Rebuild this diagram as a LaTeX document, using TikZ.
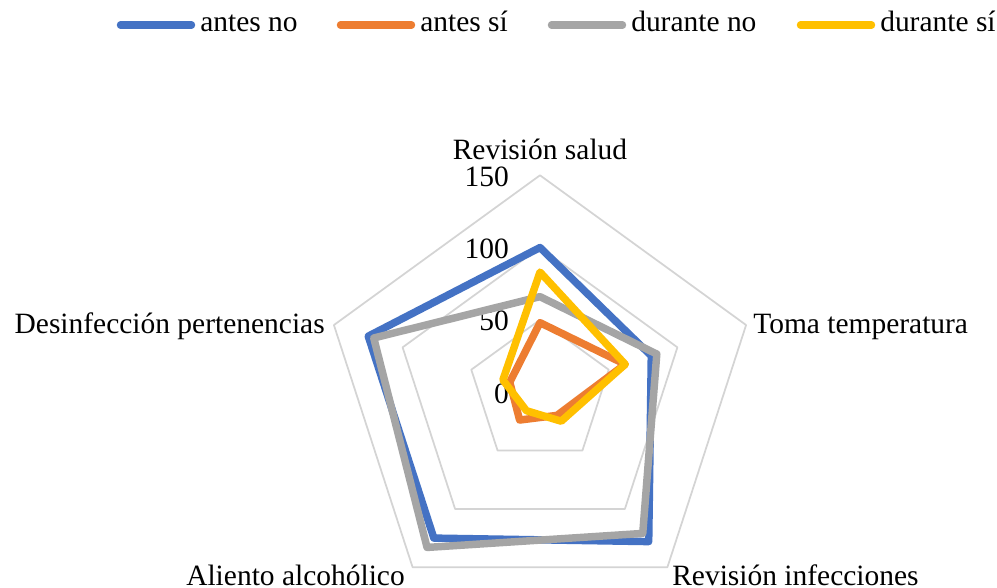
\documentclass[tikz,border=0pt]{standalone}
\usepackage{fontspec}
\setmainfont{Liberation Serif}
\usetikzlibrary{calc}
\definecolor{cblue}{HTML}{4472C4}
\definecolor{corange}{HTML}{ED7D31}
\definecolor{cgray}{HTML}{A5A5A5}
\definecolor{cyellow}{HTML}{FFC000}
\definecolor{gridgray}{HTML}{D4D4D4}
\newcommand\val[2]{($(c)!#2/150!(v#1)$)}
\begin{document}
\begin{tikzpicture}[x=0.75pt, y=0.75pt,
	grid/.style={draw=gridgray, line width=1.3pt, line join=round},
	serie/.style={line width=5.6pt, line join=round, line cap=round},
	lab/.style={font=\fontsize{22.1}{26}\selectfont, inner sep=0}]

		\fill[white] (0,0) rectangle (997,587);
		\useasboundingbox (0,0) rectangle (997,587);
		%axes
		\coordinate (c) at (540,195);
		\foreach \a [count=\i] in {90,18,-54,-126,162} {
			\coordinate (v\i) at ($(c)+(\a:216.7)$);
		}
		%rings
		\foreach \f in {0.3333,0.6667,1} {
			\draw[grid] ($(c)!\f!(v1)$) -- ($(c)!\f!(v2)$) -- ($(c)!\f!(v3)$) -- ($(c)!\f!(v4)$) -- ($(c)!\f!(v5)$) -- cycle;
		}
		\foreach \t in {0,50,100,150} {
			\node[lab, anchor=base east] (t\t) at ($(c)+(-31,\t*1.4447-11)$) {\t};
		}
		%series
		\draw[serie, cblue] \val{1}{100} -- \val{2}{81} -- \val{3}{128} -- \val{4}{125} -- \val{5}{125} -- cycle;
		\draw[serie, corange] \val{1}{48} -- \val{2}{62} -- \val{3}{20} -- \val{4}{24} -- \val{5}{22} -- cycle;
		\draw[serie, cgray] \val{1}{66} -- \val{2}{85} -- \val{3}{121} -- \val{4}{133} -- \val{5}{121} -- cycle;
		\draw[serie, cyellow] \val{1}{83} -- \val{2}{62} -- \val{3}{25} -- \val{4}{16} -- \val{5}{27} -- cycle;
		%axis labels
		\node[lab, anchor=base] (l1) at ([yshift=12pt]v1) {Revisión salud};
		\node[lab, anchor=base west] (l2) at ([xshift=5.2pt, yshift=-6pt]v2) {Toma temperatura};
		\node[lab, anchor=base west] (l3) at ([xshift=3.5pt, yshift=-13.3pt]v3) {Revisión infecciones};
		\node[lab, anchor=base east] (l4) at ([xshift=-5.7pt, yshift=-13.3pt]v4) {Aliento alcohólico};
		\node[lab, anchor=base east] (l5) at ([xshift=-6.7pt, yshift=-6pt]v5) {Desinfección pertenencias};
		%legend
		\foreach \x/\col/\txt [count=\i] in {117/cblue/antes no, 337/corange/antes sí, 548/cgray/durante no, 797/cyellow/durante sí} {
			\node[lab, anchor=base west] (leg\i) at (\x+83,555) {\txt};
			\draw[serie, \col] (\x+3.5,562) -- (\x+74.5,562);
		}
	\end{tikzpicture}
\end{document}
